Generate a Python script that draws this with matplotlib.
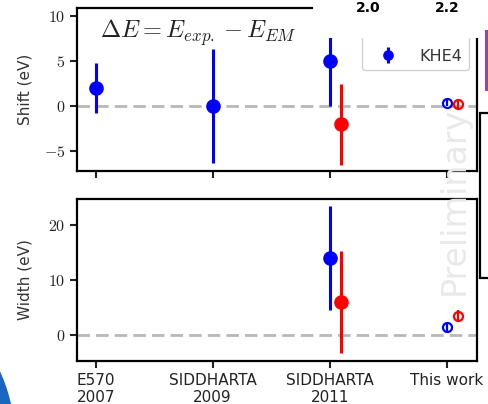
import numpy as np
import matplotlib
matplotlib.use("Agg")
import matplotlib.pyplot as plt
from matplotlib.patches import Rectangle, Ellipse
from matplotlib.ticker import FuncFormatter

plt.rcParams['mathtext.fontset'] = 'cm'
plt.rcParams['font.family'] = ['DejaVu Sans']

# ---------------- data ----------------
categories = ['E570\n2007', 'SIDDHARTA\n2009', 'SIDDHARTA\n2011', 'This work']
he4_shift = [2.0, 0.0, 5.0, 0.4]
he4_shift_err = [2.8, 6.3, 5.0, 0.35]
he3_shift = [np.nan, np.nan, -2.0, 0.2]
he3_shift_err = [np.nan, np.nan, 4.5, 0.4]
he4_width = [np.nan, np.nan, 14.0, 1.5]
he4_width_err = [np.nan, np.nan, 9.4, 0.7]
he3_width = [np.nan, np.nan, 6.0, 3.5]
he3_width_err = [np.nan, np.nan, 9.2, 1.1]
legend_labels = ['KHE3', 'KHE4']
shift_yticks = [-5, 0, 5, 10]
width_yticks = [0, 10, 20]
overlay_ticks = ['2.0', '2.2']

W, H = 488, 404
fig = plt.figure(figsize=(W / 100, H / 100), dpi=100)

def fx(x):
    return x / W

def fy(y):
    return 1 - y / H

ax1 = fig.add_axes([fx(77), fy(171), (477 - 77) / W, (171 - 8) / H])
ax2 = fig.add_axes([fx(77), fy(361), (477 - 77) / W, (361 - 199) / H])

x = np.arange(len(categories), dtype=float)
off = 0.1
BLUE, RED = '#0000ff', '#ff0000'

def draw(ax, yb, eb, yr, er, label=False):
    n = len(categories) - 1
    ax.axhline(0, color='#b8b8b8', lw=2.0, ls=(0, (4.5, 2.2)), zorder=1)
    ax.errorbar(x[:n], yb[:n], yerr=eb[:n], fmt='o', color=BLUE, ms=9.5,
                elinewidth=2.2, capsize=0, zorder=3,
                label=legend_labels[1] if label else None)
    ax.errorbar(x[:n] + off, yr[:n], yerr=er[:n], fmt='o', color=RED, ms=9.5,
                elinewidth=2.2, capsize=0, zorder=3,
                label=legend_labels[0] if label else None)
    ax.errorbar(x[n:], yb[n:], yerr=eb[n:], fmt='o', color=BLUE, ms=6.5,
                mfc='none', mew=1.6, elinewidth=1.6, capsize=0, zorder=3)
    ax.errorbar(x[n:] + off, yr[n:], yerr=er[n:], fmt='o', color=RED, ms=6.5,
                mfc='none', mew=1.6, elinewidth=1.6, capsize=0, zorder=3)
    ax.set_xlim(-0.16, 3.26)
    ax.set_xticks(x)
    for s in ['top', 'right', 'left', 'bottom']:
        ax.spines[s].set_linewidth(1.6)
    ax.tick_params(direction='out', length=5, width=1.5, labelsize=11.5,
                   colors='#222222')
    ax.yaxis.set_major_formatter(FuncFormatter(lambda v, p: r'$%g$' % v))

draw(ax1, he4_shift, he4_shift_err, he3_shift, he3_shift_err, label=True)
draw(ax2, he4_width, he4_width_err, he3_width, he3_width_err)

ax1.set_ylim(-7.2, 10.9)
ax1.set_yticks(shift_yticks)
ax1.set_xticklabels([])
ax2.set_ylim(-4.7, 24.7)
ax2.set_yticks(width_yticks)
ax2.set_xticklabels(categories, fontsize=11, color='#222222')

ax1.set_ylabel('Shift (eV)', fontsize=11, color='#333333')
ax2.set_ylabel('Width (eV)', fontsize=11, color='#333333')
ax1.yaxis.set_label_coords(-0.11, 0.5)
ax2.yaxis.set_label_coords(-0.11, 0.5)

ax1.text(0.0575, 0.85, r'$\Delta E = E_{exp.} - E_{EM}$', transform=ax1.transAxes,
         fontsize=17.5, ha='left', va='center', color='#222222')

handles, labels = ax1.get_legend_handles_labels()
order = [labels.index(legend_labels[0]), labels.index(legend_labels[1])]
leg = ax1.legend([handles[i] for i in order], [labels[i] for i in order],
                 loc='lower right', bbox_to_anchor=(0.98, 0.62), borderaxespad=0,
                 fontsize=11.5, markerscale=0.7, frameon=True, fancybox=True,
                 edgecolor='#cccccc', framealpha=0.9, labelspacing=0.8,
                 handlelength=2.4)
for t in leg.get_texts():
    t.set_color('#333333')

# watermark
fig.text(fx(454), fy(201), 'Preliminary', rotation=90, ha='center', va='center',
         fontsize=24, color='#e9e9e9', zorder=0.5)

# overlay of neighbouring slide content
fig.add_artist(Rectangle((fx(313), fy(38)), (W - 313) / W, 38 / H,
                         transform=fig.transFigure, facecolor='white',
                         edgecolor='none', zorder=10))
for xpos, t in zip([368, 447], overlay_ticks):
    fig.text(fx(xpos), fy(12), t, ha='center', va='baseline', fontsize=10,
             fontweight='bold', color='black', zorder=11)
fig.add_artist(Rectangle((fx(484.5), fy(91)), 4 / W, 61 / H,
                         transform=fig.transFigure, facecolor='#a040b0',
                         edgecolor='none', zorder=11))
fig.add_artist(Rectangle((fx(480), fy(278)), 20 / W, (278 - 113) / H,
                         transform=fig.transFigure, facecolor='white',
                         edgecolor='black', lw=1.6, zorder=11))
R = 165
fig.add_artist(Ellipse((fx(-150), fy(440)), 2 * R / W, 2 * R / H,
                       transform=fig.transFigure, facecolor='#1a66c2',
                       edgecolor='none', zorder=11))

fig.savefig('out.png', dpi=100)
